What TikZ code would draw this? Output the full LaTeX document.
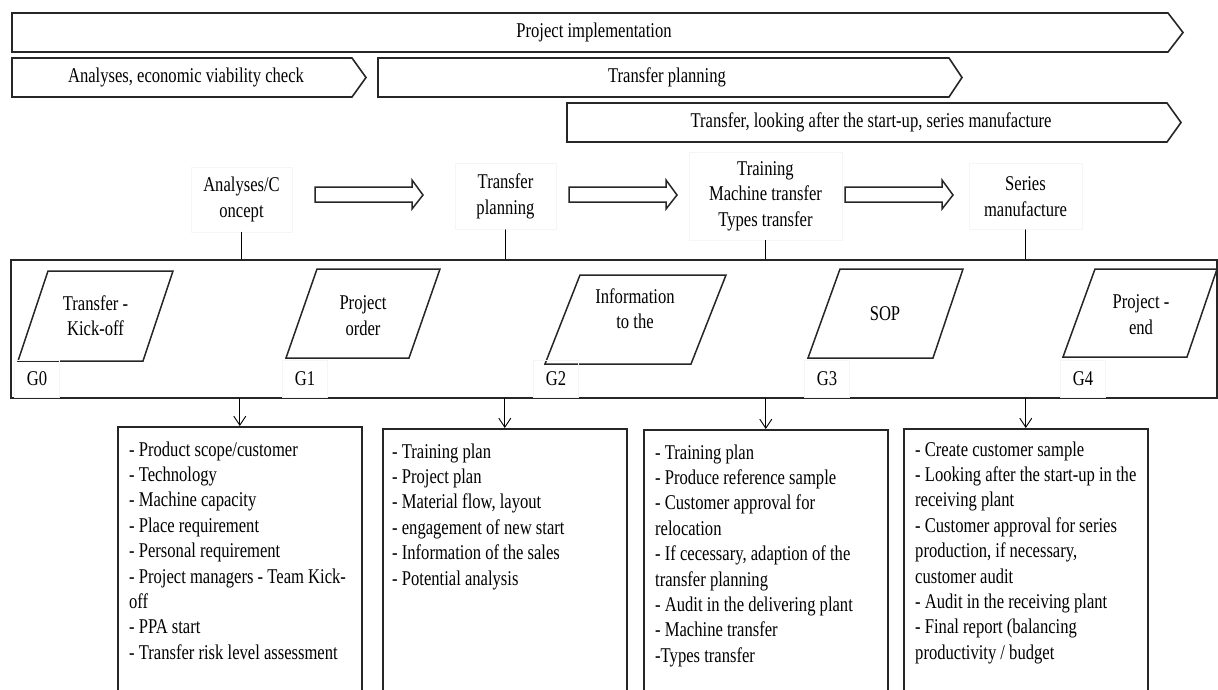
\documentclass[tikz,border=0pt]{standalone}
\usepackage{fontspec}
\setmainfont{Liberation Serif}[FakeStretch=0.79]
\usetikzlibrary{arrows.meta}
\tikzset{
	chev/.style={draw=black!85, line width=1.6pt, line join=miter},
	gate/.style={draw=black!85, line width=1.5pt, line join=miter},
	hollow/.style={draw=black!85, line width=1.5pt, line join=miter},
	frame/.style={draw=black!85, line width=1.6pt, anchor=north west, inner sep=0},
	listbox/.style={draw=black!85, line width=1.6pt, anchor=north west, inner sep=0, minimum width=244, minimum height=300},
	lbl/.style={draw=black!4, line width=0.5pt, align=center, inner sep=0},
	glbl/.style={draw=black!4, line width=0.5pt, inner sep=0, minimum width=45, minimum height=37},
	txt/.style={align=center, inner sep=0},
	item/.style={anchor=base west, inner sep=0}
}
\begin{document}
\begin{tikzpicture}[x=1pt, y=-1pt, font=\fontsize{21}{25.4}\selectfont, line cap=round, >={Straight Barb[length=9pt,width=12pt]}]
	\useasboundingbox (0,0) rectangle (1218,689);
	% phase bars
	\draw[chev] (12,13)--(1168,13)--(1183,32.5)--(1168,52)--(12,52)--cycle;
	\node[txt] (impl) at (594,32.5) {Project implementation};
	\draw[chev] (12,58)--(352,58)--(366,77.5)--(352,97)--(12,97)--cycle;
	\node[txt] (check) at (186,77.5) {Analyses, economic viability check};
	\draw[chev] (378,58)--(949,58)--(962,77.5)--(949,97)--(378,97)--cycle;
	\node[txt] (plan) at (667,77.5) {Transfer planning};
	\draw[chev] (567,103)--(1167,103)--(1181,122.5)--(1167,142)--(567,142)--cycle;
	\node[txt] (series) at (871,122.5) {Transfer, looking after the start-up, series manufacture};
	% phase labels
	\node[lbl, minimum width=101, minimum height=65] (ph1) at (241.5,199.5) {Analyses/C\\oncept};
	\node[lbl, minimum width=101, minimum height=66] (ph2) at (505.5,196.5) {Transfer\\planning};
	\node[lbl, minimum width=153, minimum height=88] (ph3) at (765.5,196) {Training\\Machine transfer\\Types transfer};
	\node[lbl, minimum width=113, minimum height=66] (ph4) at (1025.5,196.5) {Series\\manufacture};
	\foreach \x in {315,569,845}
	\draw[hollow] (\x,187)--++(97,0)--++(0,-7)--++(11,15)--++(-11,14)--++(0,-7)--++(-97,0)--cycle;
	% gates
	\node[frame, minimum width=1206, minimum height=138] (frame) at (10,259) {};
	\foreach \p in {ph1,ph2,ph3,ph4}
	\draw[line width=0.9pt] (\p.south)--(\p.south |- frame.north);
	\draw[gate] (18,361)--(48,271)--(173,271)--(143,361)--cycle;
	\node[txt] (g0) at (95.5,316) {Transfer -\\Kick-off};
	\draw[gate] (286,358)--(317,269)--(440,269)--(409,358)--cycle;
	\node[txt] (g1) at (363,315.5) {Project\\order};
	\draw[gate] (545,364)--(580,275)--(726,275)--(691,364)--cycle;
	\node[txt] (g2) at (635,309) {Information\\to the};
	\draw[gate] (808,358)--(840,269)--(963,269)--(933,358)--cycle;
	\node[txt] (g3) at (885,314) {SOP};
	\draw[gate] (1063,357)--(1095,269)--(1217,269)--(1187,357)--cycle;
	\node[txt] (g4) at (1141,314.5) {Project -\\end};
	\foreach \x/\n in {37/0,305/1,556/2,827/3,1083/4}
	\node[glbl] (G\n) at (\x,379) {G\n};
	% task lists
	\node[listbox] (b1) at (117,426) {};
	\node[listbox] (b2) at (382,428) {};
	\node[listbox] (b3) at (643,429) {};
	\node[listbox] (b4) at (903,428) {};
	\foreach \b in {b1,b2,b3,b4}
	\draw[->, line width=0.9pt] (\b.north |- frame.south)--(\b.north);
	\foreach \t [count=\i] in {{- Product scope/customer},{- Technology},{- Machine capacity},{- Place requirement},{- Personal requirement},{- Project managers - Team Kick-},{off},{- PPA start},{- Transfer risk level assessment}}
	\node[item] (t1-\i) at (129,{430.6+25.4*\i}) {\t};
	\foreach \t [count=\i] in {{- Training plan},{- Project plan},{- Material flow, layout},{- engagement of new start},{- Information of the sales},{- Potential analysis}}
	\node[item] (t2-\i) at (392,{432.6+25.4*\i}) {\t};
	\foreach \t [count=\i] in {{- Training plan},{- Produce reference sample},{- Customer approval for},{relocation},{- If cecessary, adaption of the},{transfer planning},{- Audit in the delivering plant},{- Machine transfer},{-Types transfer}}
	\node[item] (t3-\i) at (655,{433.6+25.4*\i}) {\t};
	\foreach \t [count=\i] in {{- Create customer sample},{- Looking after the start-up in the},{receiving plant},{- Customer approval for series},{production, if necessary,},{customer audit},{- Audit in the receiving plant},{- Final report (balancing},{productivity / budget}}
	\node[item] (t4-\i) at (915,{430.6+25.4*\i}) {\t};
\end{tikzpicture}
\end{document}
